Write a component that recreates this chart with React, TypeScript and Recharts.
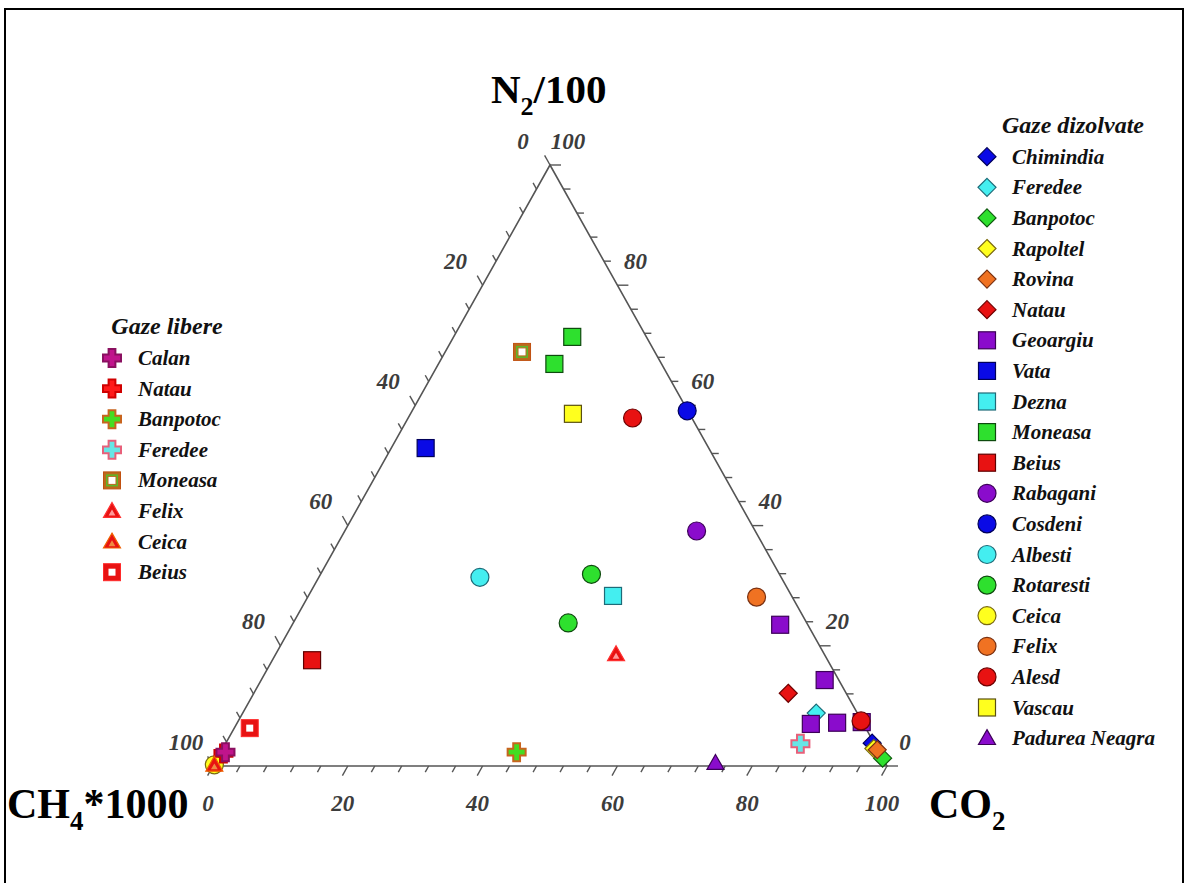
import React from "react";
import { ScatterChart, Scatter, XAxis, YAxis } from "recharts";

// readings as [CO2, N2/100] in %, CH4*1000 is whatever is left
// gaze dizolvate
const chimindia = [[95.9, 3.8]];
const feredeeD = [[85.1, 8.8]];
const banpotocD = [[98.7, 1.3]];
const rapoltel = [[96.6, 2.9]];
const rovina = [[97.2, 2.7]];
const natauD = [[79.3, 12.1]];
const geoargiu = [
  [72.4, 23.5],
  [83.6, 14.3],
  [85.2, 7.0],
  [89.0, 7.2],
  [92.6, 7.3],
];
const vata = [[5.1, 52.9]];
const dezna = [[45.2, 28.3]];
const moneasaD = [
  [17.6, 71.4],
  [17.2, 66.9],
];
const beiusD = [[5.9, 17.6]];
const rabagani = [[52.2, 39.1]];
const cosdeni = [[40.8, 59.1]];
const albesti = [[23.9, 31.4]];
const rotaresti = [
  [40.2, 31.9],
  [40.8, 23.8],
];
const ceicaD = [[0.1, 0.2]];
const felixD = [[66.6, 28.1]];
const alesd = [
  [33.3, 57.9],
  [92.4, 7.5],
];
const vascau = [[24.1, 58.6]];
const padureaNeagra = [[74.3, 0.5]];

// gaze libere
const calan = [[0.7, 2.3]];
const natauL = [[0.5, 2.1]];
const banpotocL = [[43.9, 2.3]];
const feredeeL = [[85.3, 3.7]];
const moneasaL = [[11.4, 68.9]];
const felixL = [[50.5, 18.6]];
const ceicaL = [[0.1, 0.2]];
const beiusL = [[2.3, 6.3]];

const TICKS = [0, 4, 8, 12, 16, 20, 24, 28, 32, 36, 40, 44, 48, 52, 56, 60, 64, 68, 72, 76, 80, 84, 88, 92, 96, 100];
const LABELS = [0, 20, 40, 60, 80, 100];

const PURPLE = "#8a0ccc";
const BLUE = "#0a0ae6";
const CYAN = "#44eef0";
const GREEN = "#2ee02e";
const YELLOW = "#ffff1e";
const ORANGE = "#f07222";
const RED = "#e81212";

type Kind = "diamond" | "square" | "circle" | "triangle" | "plus" | "ringSquare" | "hollowSquare" | "dotTriangle";
type Series = { name: string; data: number[][]; kind: Kind; fill: string; stroke: string; inner?: string };

const dizolvate: Series[] = [
  { name: "Chimindia", data: chimindia, kind: "diamond", fill: BLUE, stroke: "#00005a" },
  { name: "Feredee", data: feredeeD, kind: "diamond", fill: CYAN, stroke: "#1e6b78" },
  { name: "Banpotoc", data: banpotocD, kind: "diamond", fill: GREEN, stroke: "#0e5a0e" },
  { name: "Rapoltel", data: rapoltel, kind: "diamond", fill: YELLOW, stroke: "#7a6a10" },
  { name: "Rovina", data: rovina, kind: "diamond", fill: ORANGE, stroke: "#7a3010" },
  { name: "Natau", data: natauD, kind: "diamond", fill: RED, stroke: "#700000" },
  { name: "Geoargiu", data: geoargiu, kind: "square", fill: PURPLE, stroke: "#3c0058" },
  { name: "Vata", data: vata, kind: "square", fill: BLUE, stroke: "#00005a" },
  { name: "Dezna", data: dezna, kind: "square", fill: CYAN, stroke: "#1e6b78" },
  { name: "Moneasa", data: moneasaD, kind: "square", fill: GREEN, stroke: "#0e4a0e" },
  { name: "Beius", data: beiusD, kind: "square", fill: RED, stroke: "#600000" },
  { name: "Rabagani", data: rabagani, kind: "circle", fill: PURPLE, stroke: "#3c0058" },
  { name: "Cosdeni", data: cosdeni, kind: "circle", fill: BLUE, stroke: "#00005a" },
  { name: "Albesti", data: albesti, kind: "circle", fill: CYAN, stroke: "#1e6b78" },
  { name: "Rotaresti", data: rotaresti, kind: "circle", fill: GREEN, stroke: "#0e4a0e" },
  { name: "Ceica", data: ceicaD, kind: "circle", fill: YELLOW, stroke: "#7a6a10" },
  { name: "Felix", data: felixD, kind: "circle", fill: ORANGE, stroke: "#7a3010" },
  { name: "Alesd", data: alesd, kind: "circle", fill: RED, stroke: "#700000" },
  { name: "Vascau", data: vascau, kind: "square", fill: YELLOW, stroke: "#5a5010" },
  { name: "Padurea Neagra", data: padureaNeagra, kind: "triangle", fill: PURPLE, stroke: "#3c0058" },
];

const libere: Series[] = [
  { name: "Calan", data: calan, kind: "plus", fill: "#c0148c", stroke: "#8a1060" },
  { name: "Natau", data: natauL, kind: "plus", fill: "#ff1a1a", stroke: "#d00000" },
  { name: "Banpotoc", data: banpotocL, kind: "plus", fill: "#44dd22", stroke: "#c8641e" },
  { name: "Feredee", data: feredeeL, kind: "plus", fill: "#66e6e6", stroke: "#e8607a" },
  { name: "Moneasa", data: moneasaL, kind: "ringSquare", fill: "#bb6a1c", stroke: "#c05010", inner: "#5cb82a" },
  { name: "Felix", data: felixL, kind: "dotTriangle", fill: RED, stroke: "#ff3030", inner: "#ff9a9a" },
  { name: "Ceica", data: ceicaL, kind: "dotTriangle", fill: RED, stroke: "#f06000", inner: "#f08a40" },
  { name: "Beius", data: beiusL, kind: "hollowSquare", fill: RED, stroke: "#ff2a2a" },
];

// Natau (libere) sits under Calan in the plot
const drawOrder = [...dizolvate, libere[1], libere[0], ...libere.slice(2)];

// ternary -> plot coords (x along the base, y = N2 height)
const project = (pts: number[][]) => pts.map(([co2, n2]) => ({ x: co2 + n2 / 2, y: n2 }));

const frame = [
  { x: 0, y: 0 },
  { x: 100, y: 0 },
  { x: 50, y: 100 },
  { x: 0, y: 0 },
];
const bottomTicks = TICKS.map((t) => ({ x: t, y: 0, major: t % 20 === 0 }));
const rightTicks = TICKS.map((t) => ({ x: 100 - t / 2, y: t, major: t % 20 === 0 }));
const leftTicks = TICKS.map((t) => ({ x: (100 - t) / 2, y: 100 - t, major: t % 20 === 0 }));
const bottomLabels = LABELS.map((t) => ({ x: t, y: 0, label: t }));
const rightLabels = LABELS.map((t) => ({ x: 100 - t / 2, y: t, label: t }));
const leftLabels = LABELS.map((t) => ({ x: (100 - t) / 2, y: 100 - t, label: t }));

const AXIS = "#555";
const SERIF = "'Liberation Serif', 'Times New Roman', serif";

function Marker({ cx, cy, s }: { cx: number; cy: number; s: Series }) {
  if (s.kind === "diamond") {
    const r = 9;
    return (
      <polygon
        points={`${cx},${cy - r} ${cx + r},${cy} ${cx},${cy + r} ${cx - r},${cy}`}
        fill={s.fill}
        stroke={s.stroke}
        strokeWidth={1.2}
      />
    );
  }
  if (s.kind === "square") {
    const h = 8.5;
    return <rect x={cx - h} y={cy - h} width={2 * h} height={2 * h} fill={s.fill} stroke={s.stroke} strokeWidth={1.2} />;
  }
  if (s.kind === "circle") {
    return <circle cx={cx} cy={cy} r={9} fill={s.fill} stroke={s.stroke} strokeWidth={1.2} />;
  }
  if (s.kind === "triangle" || s.kind === "dotTriangle") {
    const r = 8.5;
    const pts = `${cx},${cy - r} ${cx + r},${cy + r * 0.75} ${cx - r},${cy + r * 0.75}`;
    const ri = r * 0.4;
    return (
      <g>
        <polygon points={pts} fill={s.fill} stroke={s.stroke} strokeWidth={1.2} />
        {s.kind === "dotTriangle" && (
          <polygon
            points={`${cx},${cy - ri + 2} ${cx + ri},${cy + ri * 0.75 + 2} ${cx - ri},${cy + ri * 0.75 + 2}`}
            fill={s.inner}
          />
        )}
      </g>
    );
  }
  if (s.kind === "plus") {
    const a = 9;
    const b = 3.4;
    const d = `M${cx - b},${cy - a} H${cx + b} V${cy - b} H${cx + a} V${cy + b} H${cx + b} V${cy + a} H${cx - b} V${cy + b} H${cx - a} V${cy - b} H${cx - b} Z`;
    return <path d={d} fill={s.fill} stroke={s.stroke} strokeWidth={2} />;
  }
  if (s.kind === "ringSquare") {
    const h = 8.5;
    return (
      <g>
        <rect x={cx - h} y={cy - h} width={2 * h} height={2 * h} fill={s.fill} stroke={s.stroke} strokeWidth={1} />
        <rect x={cx - h + 2.5} y={cy - h + 2.5} width={2 * h - 5} height={2 * h - 5} fill={s.inner} />
        <rect x={cx - 4} y={cy - 4} width={8} height={8} fill="#fff" stroke={s.fill} strokeWidth={1} />
      </g>
    );
  }
  // hollowSquare
  const h = 8.5;
  return (
    <g>
      <rect x={cx - h} y={cy - h} width={2 * h} height={2 * h} fill={s.fill} stroke={s.stroke} strokeWidth={1} />
      <rect x={cx - 3.5} y={cy - 3.5} width={7} height={7} fill="#fff" />
    </g>
  );
}

const tickShape = (dx: number, dy: number) => (p: any) => {
  const len = p.payload.major ? 11 : 7;
  return <line x1={p.cx} y1={p.cy} x2={p.cx + dx * len} y2={p.cy + dy * len} stroke={AXIS} strokeWidth={1.4} />;
};

const labelShape = (ox: number, oy: number) => (p: any) => (
  <text
    x={p.cx + ox}
    y={p.cy + oy}
    textAnchor="middle"
    dominantBaseline="central"
    fontFamily={SERIF}
    fontStyle="italic"
    fontWeight="bold"
    fontSize={23}
    fill="#3c3c3c"
  >
    {p.payload.label}
  </text>
);

function Legend({ title, items, x, y, tx, titleX }: { title: string; items: Series[]; x: number; y: number; tx: number; titleX: number }) {
  return (
    <g fontFamily={SERIF} fontStyle="italic" fontWeight="bold" fill="#111">
      <text x={titleX} y={y - 32} textAnchor="middle" dominantBaseline="central" fontSize={24}>
        {title}
      </text>
      {items.map((s, i) => (
        <g key={s.name + i}>
          <Marker cx={x} cy={y + i * 30.6} s={s} />
          <text x={tx} y={y + i * 30.6} dominantBaseline="central" fontSize={21}>
            {s.name}
          </text>
        </g>
      ))}
    </g>
  );
}

const DIR = { x: 0.489, y: 0.872 };

export default function App() {
  return (
    <div style={{ position: "absolute", left: 0, top: 0, width: 1187, height: 883, background: "#fff", overflow: "hidden" }}>
      <div
        style={{
          position: "absolute",
          left: 4,
          top: 8,
          width: 1176,
          height: 900,
          border: "2px solid #000",
          borderBottom: "none",
        }}
      />
      <div style={{ position: "absolute", left: 0, top: 0 }}>
        <ScatterChart width={1187} height={883} margin={{ top: 165, right: 300, bottom: 117, left: 213 }}>
          <XAxis type="number" dataKey="x" domain={[0, 100]} hide />
          <YAxis type="number" dataKey="y" domain={[0, 100]} hide />
          <Scatter
            data={frame}
            line={{ stroke: AXIS, strokeWidth: 1.6 }}
            lineType="joint"
            shape={() => <g />}
            isAnimationActive={false}
          />
          <Scatter data={bottomTicks} shape={tickShape(-DIR.x, DIR.y)} isAnimationActive={false} />
          <Scatter data={rightTicks} shape={tickShape(1, 0)} isAnimationActive={false} />
          <Scatter data={leftTicks} shape={tickShape(-DIR.x, -DIR.y)} isAnimationActive={false} />
          <Scatter data={bottomLabels} shape={labelShape(-5, 37)} isAnimationActive={false} />
          <Scatter data={rightLabels} shape={labelShape(18, -24)} isAnimationActive={false} />
          <Scatter data={leftLabels} shape={labelShape(-27, -24)} isAnimationActive={false} />
          {drawOrder.map((s, i) => (
            <Scatter
              key={s.name + i}
              name={s.name}
              data={project(s.data)}
              shape={(p: any) => <Marker cx={p.cx} cy={p.cy} s={s} />}
              isAnimationActive={false}
            />
          ))}
        </ScatterChart>
      </div>
      <svg width={1187} height={883} style={{ position: "absolute", left: 0, top: 0, pointerEvents: "none" }}>
        <g fontFamily={SERIF} fontWeight="bold" fill="#000">
          <text x={491} y={103} fontSize={41}>
            N<tspan fontSize={26} dy={12}>2</tspan>
            <tspan dy={-12}>/100</tspan>
          </text>
          <text x={7} y={818} fontSize={42}>
            CH<tspan fontSize={27} dy={12}>4</tspan>
            <tspan dy={-12}>*1000</tspan>
          </text>
          <text x={929} y={818} fontSize={42}>
            CO<tspan fontSize={27} dy={12}>2</tspan>
          </text>
        </g>
        <Legend title="Gaze dizolvate" items={dizolvate} x={987} y={156.7} tx={1012} titleX={1073} />
        <Legend title="Gaze libere" items={libere} x={112} y={358} tx={138} titleX={167} />
      </svg>
    </div>
  );
}
